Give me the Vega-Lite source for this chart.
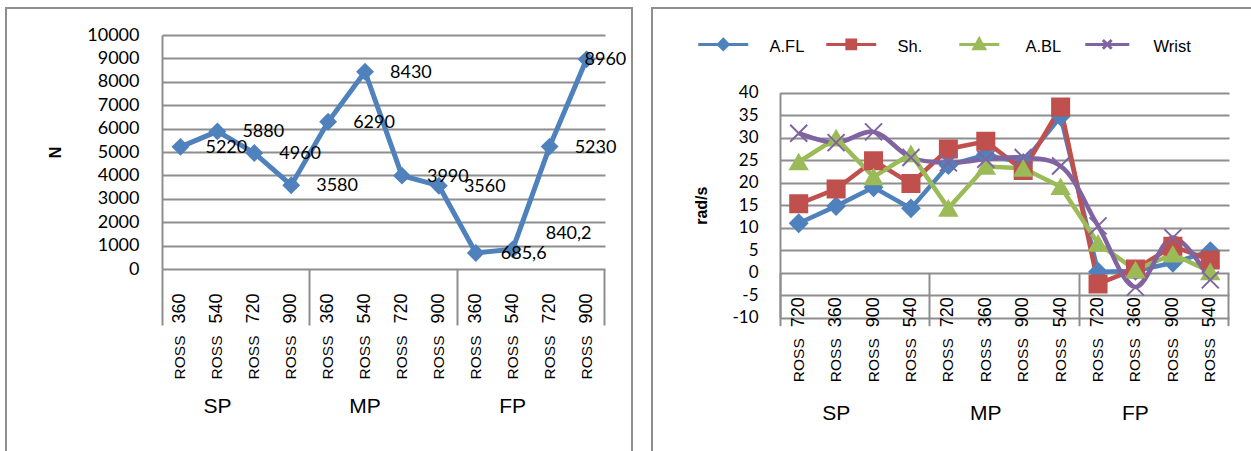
{
  "$schema": "https://vega.github.io/schema/vega-lite/v6.json",
  "background": "white",
  "padding": {"left": 5, "top": 7, "right": 0, "bottom": 0},
  "spacing": 18,
  "config": {
    "view": {"stroke": "#8e8e8e", "strokeWidth": 2},
    "locale": {"number": {"decimal": ",", "thousands": ".", "grouping": [3], "currency": ["", " €"], "minus": "-"}},
    "axisX": {"domain": false, "grid": false, "labelOverlap": false, "labelColor": "#000", "labelFont": "Liberation Sans", "labelBound": false, "labelFlush": false, "tickColor": "#8e8e8e", "tickWidth": 2},
    "axisY": {"labelFont": "Lato", "labelColor": "#000", "ticks": false, "tickSize": 0, "domainColor": "#8e8e8e", "domainWidth": 2, "gridColor": "#8e8e8e", "gridWidth": 2, "titleFont": "Liberation Sans", "titleFontWeight": "bold", "titleColor": "#000", "titleFontSize": 16, "format": "d", "labelOverlap": false}
  },
  "datasets": {
    "left": [
      {"cat": "SP ROSS 360", "N": 5220},
      {"cat": "SP ROSS 540", "N": 5880},
      {"cat": "SP ROSS 720", "N": 4960},
      {"cat": "SP ROSS 900", "N": 3580},
      {"cat": "MP ROSS 360", "N": 6290},
      {"cat": "MP ROSS 540", "N": 8430},
      {"cat": "MP ROSS 720", "N": 3990},
      {"cat": "MP ROSS 900", "N": 3560},
      {"cat": "FP ROSS 360", "N": 685.6},
      {"cat": "FP ROSS 540", "N": 840.2},
      {"cat": "FP ROSS 720", "N": 5230},
      {"cat": "FP ROSS 900", "N": 8960}
    ],
    "right": [
      {"cat": "SP ROSS 720", "series": "A.FL", "v": 11},
      {"cat": "SP ROSS 360", "series": "A.FL", "v": 14.8},
      {"cat": "SP ROSS 900", "series": "A.FL", "v": 19},
      {"cat": "SP ROSS 540", "series": "A.FL", "v": 14.3},
      {"cat": "MP ROSS 720", "series": "A.FL", "v": 23.9},
      {"cat": "MP ROSS 360", "series": "A.FL", "v": 26.2},
      {"cat": "MP ROSS 900", "series": "A.FL", "v": 24.4},
      {"cat": "MP ROSS 540", "series": "A.FL", "v": 34.7},
      {"cat": "FP ROSS 720", "series": "A.FL", "v": 0.2},
      {"cat": "FP ROSS 360", "series": "A.FL", "v": 0.4},
      {"cat": "FP ROSS 900", "series": "A.FL", "v": 2.2},
      {"cat": "FP ROSS 540", "series": "A.FL", "v": 4.8},
      {"cat": "SP ROSS 720", "series": "Sh.", "v": 15.3},
      {"cat": "SP ROSS 360", "series": "Sh.", "v": 18.6},
      {"cat": "SP ROSS 900", "series": "Sh.", "v": 24.9},
      {"cat": "SP ROSS 540", "series": "Sh.", "v": 19.8},
      {"cat": "MP ROSS 720", "series": "Sh.", "v": 27.5},
      {"cat": "MP ROSS 360", "series": "Sh.", "v": 29.2},
      {"cat": "MP ROSS 900", "series": "Sh.", "v": 22.7},
      {"cat": "MP ROSS 540", "series": "Sh.", "v": 36.8},
      {"cat": "FP ROSS 720", "series": "Sh.", "v": -2.5},
      {"cat": "FP ROSS 360", "series": "Sh.", "v": 0.8},
      {"cat": "FP ROSS 900", "series": "Sh.", "v": 5.9},
      {"cat": "FP ROSS 540", "series": "Sh.", "v": 2.8},
      {"cat": "SP ROSS 720", "series": "A.BL", "v": 24.6},
      {"cat": "SP ROSS 360", "series": "A.BL", "v": 29.9},
      {"cat": "SP ROSS 900", "series": "A.BL", "v": 21.3},
      {"cat": "SP ROSS 540", "series": "A.BL", "v": 26.4},
      {"cat": "MP ROSS 720", "series": "A.BL", "v": 14.3},
      {"cat": "MP ROSS 360", "series": "A.BL", "v": 23.6},
      {"cat": "MP ROSS 900", "series": "A.BL", "v": 23.2},
      {"cat": "MP ROSS 540", "series": "A.BL", "v": 19.1},
      {"cat": "FP ROSS 720", "series": "A.BL", "v": 6.5},
      {"cat": "FP ROSS 360", "series": "A.BL", "v": 0.6},
      {"cat": "FP ROSS 900", "series": "A.BL", "v": 4.1},
      {"cat": "FP ROSS 540", "series": "A.BL", "v": 0.2},
      {"cat": "SP ROSS 720", "series": "Wrist", "v": 31.0},
      {"cat": "SP ROSS 360", "series": "Wrist", "v": 28.9},
      {"cat": "SP ROSS 900", "series": "Wrist", "v": 31.3},
      {"cat": "SP ROSS 540", "series": "Wrist", "v": 25.6},
      {"cat": "MP ROSS 720", "series": "Wrist", "v": 24.4},
      {"cat": "MP ROSS 360", "series": "Wrist", "v": 25.2},
      {"cat": "MP ROSS 900", "series": "Wrist", "v": 25.6},
      {"cat": "MP ROSS 540", "series": "Wrist", "v": 23.7},
      {"cat": "FP ROSS 720", "series": "Wrist", "v": 10.4},
      {"cat": "FP ROSS 360", "series": "Wrist", "v": -3.2},
      {"cat": "FP ROSS 900", "series": "Wrist", "v": 7.8},
      {"cat": "FP ROSS 540", "series": "Wrist", "v": -1.6}
    ]
  },
  "hconcat": [
    {
      "width": 626,
      "height": 450,
      "data": {"name": "left"},
      "resolve": {"axis": {"x": "independent"}},
      "layer": [
        {
          "mark": {"type": "line", "color": "#4F81BD", "strokeWidth": 5},
          "encoding": {
            "x": {"field": "cat", "type": "nominal", "sort": null,
              "scale": {"type": "band", "range": [156, 599], "paddingInner": 0, "paddingOuter": 0},
              "axis": {"orient": "bottom", "title": null, "offset": -189, "labelExpr": "split(datum.value, ' ')[2]", "labelAngle": -90, "labelAlign": "right", "labelBaseline": "middle", "labelPadding": 24, "ticks": false, "tickSize": 0, "labelFontSize": 18}},
            "y": {"field": "N", "type": "quantitative",
              "scale": {"domain": [0, 10000], "range": [261, 27], "nice": false},
              "axis": {"title": "N", "offset": -156, "values": [0, 1000, 2000, 3000, 4000, 5000, 6000, 7000, 8000, 9000, 10000], "labelPadding": 23, "labelFontSize": 18, "titlePadding": 23}}
          }
        },
        {
          "mark": {"type": "point", "shape": "diamond", "filled": true, "size": 320, "color": "#4F81BD", "opacity": 1},
          "encoding": {
            "x": {"field": "cat", "type": "nominal", "sort": null,
              "scale": {"type": "band", "range": [156, 599], "paddingInner": 0, "paddingOuter": 0},
              "axis": {"orient": "bottom", "title": null, "offset": -189, "labelExpr": "split(datum.value, ' ')[1]", "labelAngle": -90, "labelAlign": "right", "labelBaseline": "middle", "labelPadding": 66, "ticks": false, "tickSize": 0, "labelFontSize": 15.5}},
            "y": {"field": "N", "type": "quantitative"}
          }
        },
        {
          "mark": {"type": "text", "align": "left", "baseline": "middle", "font": "Lato", "fontSize": 18, "color": "#000",
            "dx": {"expr": "datum.N > 8900 ? -2 : (datum.N > 800 && datum.N < 900 ? 33 : 25)"},
            "dy": {"expr": "datum.N > 800 && datum.N < 900 ? -15 : 1"}},
          "encoding": {
            "x": {"field": "cat", "type": "nominal", "sort": null,
              "scale": {"type": "band", "range": [156, 599], "paddingInner": 0, "paddingOuter": 0},
              "axis": {"orient": "bottom", "title": null, "offset": -189, "values": ["SP ROSS 540", "MP ROSS 540", "FP ROSS 540"], "bandPosition": 1, "labelExpr": "split(datum.value, ' ')[0]", "labelAngle": 0, "labelAlign": "center", "labelBaseline": "top", "labelPadding": 126, "ticks": false, "tickSize": 0, "labelFontSize": 21}},
            "y": {"field": "N", "type": "quantitative"},
            "text": {"field": "N", "type": "quantitative", "format": "~g"}
          }
        },
        {
          "mark": {"type": "point", "opacity": 0},
          "encoding": {
            "x": {"field": "cat", "type": "nominal", "sort": null,
              "scale": {"type": "band", "range": [156, 599], "paddingInner": 0, "paddingOuter": 0},
              "axis": {"orient": "bottom", "title": null, "offset": -189, "values": ["SP ROSS 360", "MP ROSS 360", "FP ROSS 360"], "bandPosition": 0, "labels": false, "ticks": true, "tickSize": 56}},
            "y": {"field": "N", "type": "quantitative"}
          }
        },
        {
          "mark": {"type": "point", "opacity": 0},
          "encoding": {
            "x": {"field": "cat", "type": "nominal", "sort": null,
              "scale": {"type": "band", "range": [156, 599], "paddingInner": 0, "paddingOuter": 0},
              "axis": {"orient": "bottom", "title": null, "offset": -189, "values": ["FP ROSS 900"], "bandPosition": 1, "labels": false, "ticks": true, "tickSize": 56}},
            "y": {"field": "N", "type": "quantitative"}
          }
        }
      ]
    },
    {
      "width": 620,
      "height": 450,
      "data": {"name": "right"},
      "resolve": {"axis": {"x": "independent"}, "scale": {"shape": "independent"}, "legend": {"color": "independent", "shape": "independent"}},
      "layer": [
        {
          "transform": [{"filter": "datum.series !== 'Wrist'"}],
          "mark": {"type": "line", "strokeWidth": 4.5},
          "encoding": {
            "x": {"field": "cat", "type": "nominal", "sort": null,
              "scale": {"type": "band", "range": [128, 577], "paddingInner": 0, "paddingOuter": 0},
              "axis": {"orient": "bottom", "title": null, "offset": -185.3, "labelExpr": "split(datum.value, ' ')[2]", "labelAngle": -90, "labelAlign": "right", "labelBaseline": "middle", "labelPadding": 24, "ticks": false, "tickSize": 0, "labelFontSize": 18}},
            "y": {"field": "v", "type": "quantitative",
              "scale": {"domain": [-10, 40], "range": [309.7, 84.7], "nice": false, "zero": false},
              "axis": {"title": "rad/s", "offset": -128, "values": [-10, -5, 0, 5, 10, 15, 20, 25, 30, 35, 40], "labelPadding": 22, "labelFontSize": 17, "titlePadding": 22}},
            "color": {"field": "series", "type": "nominal",
              "scale": {"domain": ["A.FL", "Sh.", "A.BL", "Wrist"], "range": ["#4F81BD", "#C0504D", "#9BBB59", "#8064A2"]},
              "legend": null}
          }
        },
        {
          "transform": [{"filter": "datum.series === 'Wrist'"}],
          "mark": {"type": "line", "strokeWidth": 4.5, "interpolate": "catmull-rom"},
          "encoding": {
            "x": {"field": "cat", "type": "nominal", "sort": null,
              "scale": {"type": "band", "range": [128, 577], "paddingInner": 0, "paddingOuter": 0},
              "axis": {"orient": "bottom", "title": null, "offset": -185.3, "labelExpr": "split(datum.value, ' ')[1]", "labelAngle": -90, "labelAlign": "right", "labelBaseline": "middle", "labelPadding": 65, "ticks": false, "tickSize": 0, "labelFontSize": 15.5}},
            "y": {"field": "v", "type": "quantitative"},
            "color": {"field": "series", "type": "nominal",
              "scale": {"domain": ["A.FL", "Sh.", "A.BL", "Wrist"], "range": ["#4F81BD", "#C0504D", "#9BBB59", "#8064A2"]},
              "legend": null}
          }
        },
        {
          "mark": {"type": "point", "filled": true, "size": 290, "strokeWidth": 2, "opacity": 1},
          "encoding": {
            "x": {"field": "cat", "type": "nominal", "sort": null,
              "scale": {"type": "band", "range": [128, 577], "paddingInner": 0, "paddingOuter": 0},
              "axis": {"orient": "bottom", "title": null, "offset": -185.3, "values": ["SP ROSS 360", "MP ROSS 360", "FP ROSS 360"], "bandPosition": 1, "labelExpr": "split(datum.value, ' ')[0]", "labelAngle": 0, "labelAlign": "center", "labelBaseline": "top", "labelPadding": 130, "ticks": false, "tickSize": 0, "labelFontSize": 21}},
            "y": {"field": "v", "type": "quantitative"},
            "color": {"field": "series", "type": "nominal",
              "scale": {"domain": ["A.FL", "Sh.", "A.BL", "Wrist"], "range": ["#4F81BD", "#C0504D", "#9BBB59", "#8064A2"]},
              "legend": null},
            "stroke": {"field": "series", "type": "nominal",
              "scale": {"domain": ["A.FL", "Sh.", "A.BL", "Wrist"], "range": ["#4F81BD", "#C0504D", "#9BBB59", "#8064A2"]},
              "legend": null},
            "shape": {"field": "series", "type": "nominal",
              "scale": {"domain": ["A.FL", "Sh.", "A.BL", "Wrist"], "range": ["diamond", "square", "triangle-up", "M-1,-1L1,1M-1,1L1,-1"]},
              "legend": null}
          }
        },
        {
          "mark": {"type": "point", "filled": false, "opacity": 0},
          "encoding": {
            "x": {"field": "cat", "type": "nominal", "sort": null,
              "scale": {"type": "band", "range": [128, 577], "paddingInner": 0, "paddingOuter": 0},
              "axis": {"orient": "bottom", "title": null, "offset": -185.3, "values": ["SP ROSS 720", "MP ROSS 720", "FP ROSS 720"], "bandPosition": 0, "labels": false, "ticks": true, "tickSize": 53}},
            "y": {"field": "v", "type": "quantitative"},
            "color": {"field": "series", "type": "nominal",
              "scale": {"domain": ["A.FL", "Sh.", "A.BL", "Wrist"], "range": ["#4F81BD", "#C0504D", "#9BBB59", "#8064A2"]},
              "legend": {"title": null, "orient": "none", "legendX": 63, "legendY": 31, "direction": "horizontal", "columns": 4, "gridAlign": "all", "columnPadding": 13, "symbolSize": 64, "symbolStrokeWidth": 3, "symbolOpacity": 1, "labelFont": "Liberation Sans", "labelFontSize": 16.5, "labelColor": "#000", "labelOffset": 38, "padding": 0}},
            "shape": {"field": "series", "type": "nominal",
              "scale": {"domain": ["A.FL", "Sh.", "A.BL", "Wrist"], "range": [
                "M-6.25,-0.75H6.25M0,-2L1.25,-0.75L0,0.5L-1.25,-0.75ZM0,-1.4L0.65,-0.75L0,-0.1L-0.65,-0.75ZM0,-0.95L0.2,-0.75L0,-0.55L-0.2,-0.75Z",
                "M-6.25,-0.75H6.25M-1.1,-1.85H1.1V0.35H-1.1ZM-0.5,-1.25H0.5V-0.25H-0.5ZM-0.1,-0.85H0.1V-0.65H-0.1Z",
                "M-5,-0.75H5M0,-2.1L1.35,0.35H-1.35ZM0,-1.3L0.6,-0.05H-0.6Z",
                "M-5.5,-0.75H5.5M-1.1,-1.85L1.1,0.35M-1.1,0.35L1.1,-1.85"]},
              "legend": {"title": null, "orient": "none", "legendX": 63, "legendY": 31, "direction": "horizontal", "columns": 4, "gridAlign": "all", "columnPadding": 13, "symbolSize": 64, "symbolStrokeWidth": 3, "symbolOpacity": 1, "labelFont": "Liberation Sans", "labelFontSize": 16.5, "labelColor": "#000", "labelOffset": 38, "padding": 0}}
          }
        },
        {
          "mark": {"type": "point", "opacity": 0},
          "encoding": {
            "x": {"field": "cat", "type": "nominal", "sort": null,
              "scale": {"type": "band", "range": [128, 577], "paddingInner": 0, "paddingOuter": 0},
              "axis": {"orient": "bottom", "title": null, "offset": -185.3, "values": ["FP ROSS 540"], "bandPosition": 1, "labels": false, "ticks": true, "tickSize": 53}},
            "y": {"field": "v", "type": "quantitative"}
          }
        }
      ]
    }
  ]
}
